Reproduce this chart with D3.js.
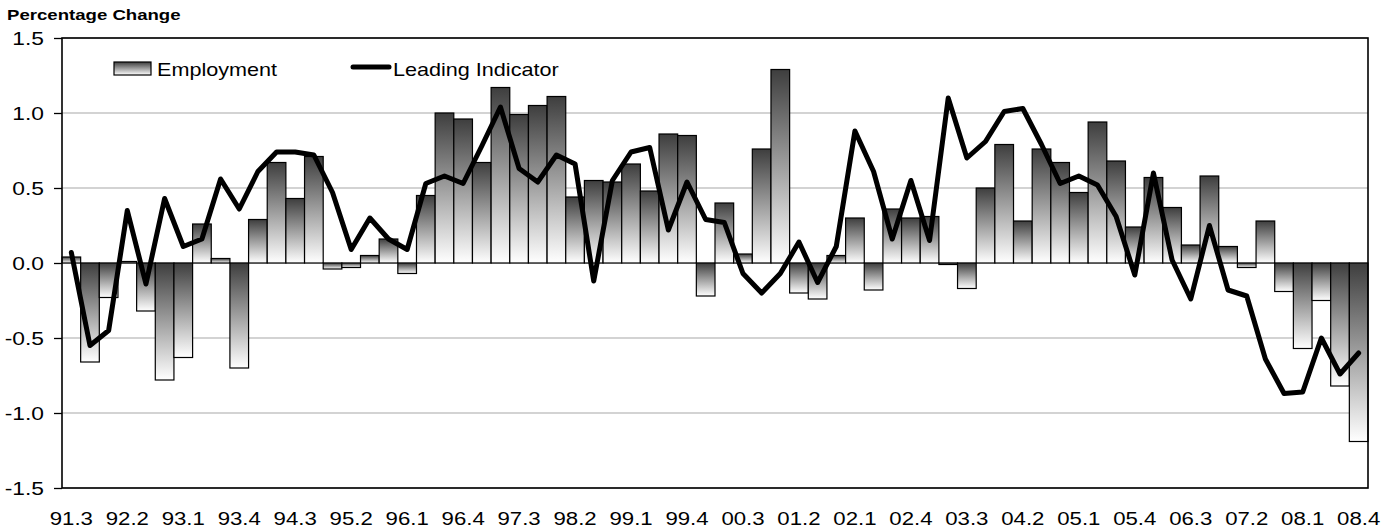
<!DOCTYPE html>
<html>
<head>
<meta charset="utf-8">
<script src="https://cdn.jsdelivr.net/npm/d3@7"></script>
<style>
  html, body { margin: 0; padding: 0; background: #fff; }
  svg { display: block; }
  text { font-family: "Liberation Sans", Arial, sans-serif; fill: #000; }
</style>
</head>
<body>
<svg id="chart" width="1395" height="531"></svg>
<script>
const categories = [
  "91.3","91.4",
  "92.1","92.2","92.3","92.4",
  "93.1","93.2","93.3","93.4",
  "94.1","94.2","94.3","94.4",
  "95.1","95.2","95.3","95.4",
  "96.1","96.2","96.3","96.4",
  "97.1","97.2","97.3","97.4",
  "98.1","98.2","98.3","98.4",
  "99.1","99.2","99.3","99.4",
  "00.1","00.2","00.3","00.4",
  "01.1","01.2","01.3","01.4",
  "02.1","02.2","02.3","02.4",
  "03.1","03.2","03.3","03.4",
  "04.1","04.2","04.3","04.4",
  "05.1","05.2","05.3","05.4",
  "06.1","06.2","06.3","06.4",
  "07.1","07.2","07.3","07.4",
  "08.1","08.2","08.3","08.4"
];

const employment = [
  0.04, -0.66, -0.23, 0.01, -0.32, -0.78, -0.63, 0.26, 0.03, -0.70,
  0.29, 0.67, 0.43, 0.71, -0.04, -0.03, 0.05, 0.16, -0.07, 0.45,
  1.00, 0.96, 0.67, 1.17, 0.99, 1.05, 1.11, 0.44, 0.55, 0.54,
  0.66, 0.48, 0.86, 0.85, -0.22, 0.40, 0.06, 0.76, 1.29, -0.20,
  -0.24, 0.05, 0.30, -0.18, 0.36, 0.30, 0.31, -0.01, -0.17, 0.50,
  0.79, 0.28, 0.76, 0.67, 0.47, 0.94, 0.68, 0.24, 0.57, 0.37,
  0.12, 0.58, 0.11, -0.03, 0.28, -0.19, -0.57, -0.25, -0.82, -1.19
];

const leadingIndicator = [
  0.07, -0.55, -0.45, 0.35, -0.14, 0.43, 0.11, 0.16, 0.56, 0.36,
  0.61, 0.74, 0.74, 0.72, 0.47, 0.09, 0.30, 0.16, 0.09, 0.53,
  0.58, 0.53, 0.78, 1.04, 0.63, 0.54, 0.72, 0.66, -0.12, 0.55,
  0.74, 0.77, 0.22, 0.54, 0.29, 0.27, -0.07, -0.20, -0.07, 0.14,
  -0.13, 0.11, 0.88, 0.61, 0.16, 0.55, 0.15, 1.10, 0.70, 0.81,
  1.01, 1.03, 0.79, 0.53, 0.58, 0.52, 0.31, -0.08, 0.60, 0.02,
  -0.24, 0.25, -0.18, -0.22, -0.64, -0.87, -0.86, -0.50, -0.74, -0.60
];

const yTickValues = [-1.5, -1.0, -0.5, 0.0, 0.5, 1.0, 1.5];
const yTickLabels = ["-1.5", "-1.0", "-0.5", "0.0", "0.5", "1.0", "1.5"];
const xTickLabels = ["91.3","92.2","93.1","93.4","94.3","95.2","96.1","96.4","97.3","98.2","99.1","99.4",
                     "00.3","01.2","02.1","02.4","03.3","04.2","05.1","05.4","06.3","07.2","08.1","08.4"];
const seriesNames = ["Employment", "Leading Indicator"];
const titleText = "Percentage Change";

const W = 1395, H = 531;
const margin = { left: 62, right: 27, top: 38, bottom: 43 };
const SX = 1.2; // horizontal text stretch of the original

const svg = d3.select("#chart");
svg.append("rect").attr("width", W).attr("height", H).attr("fill", "#fff");

const defs = svg.append("defs");
const grad = defs.append("linearGradient").attr("id", "barGrad")
  .attr("x1", 0).attr("y1", 0).attr("x2", 0).attr("y2", 1);
grad.append("stop").attr("offset", "0%").attr("stop-color", "#3e3e3e");
grad.append("stop").attr("offset", "100%").attr("stop-color", "#ffffff");

const x = d3.scaleBand().domain(categories)
  .range([margin.left, W - margin.right]).padding(0);
const y = d3.scaleLinear().domain([-1.5, 1.5])
  .range([H - margin.bottom, margin.top]);

// gridlines
svg.append("g").selectAll("line").data(yTickValues).join("line")
  .attr("x1", margin.left).attr("x2", W - margin.right)
  .attr("y1", d => y(d)).attr("y2", d => y(d))
  .attr("stroke", "#c4c4c4").attr("stroke-width", 1.3);

// bars
svg.append("g").selectAll("rect").data(employment).join("rect")
  .attr("x", (d, i) => x(categories[i]))
  .attr("width", x.bandwidth())
  .attr("y", d => y(Math.max(0, d)))
  .attr("height", d => Math.abs(y(d) - y(0)))
  .attr("fill", "url(#barGrad)")
  .attr("stroke", "#000").attr("stroke-width", 1.2);

// line
const line = d3.line()
  .x((d, i) => x(categories[i]) + x.bandwidth() / 2)
  .y(d => y(d));
svg.append("path").datum(leadingIndicator)
  .attr("d", line)
  .attr("fill", "none").attr("stroke", "#000")
  .attr("stroke-width", 5).attr("stroke-linejoin", "round").attr("stroke-linecap", "round");

// plot border
svg.append("rect")
  .attr("x", margin.left).attr("y", margin.top)
  .attr("width", W - margin.left - margin.right)
  .attr("height", H - margin.top - margin.bottom)
  .attr("fill", "none").attr("stroke", "#000").attr("stroke-width", 1.6);

// y axis
const yAxis = svg.append("g").attr("transform", `translate(${margin.left},0)`)
  .call(d3.axisLeft(y).tickValues(yTickValues)
    .tickFormat((d, i) => yTickLabels[i]).tickSize(8).tickPadding(10));
yAxis.select(".domain").remove();
yAxis.selectAll(".tick line").attr("stroke", "#000").attr("stroke-width", 1.3);
yAxis.selectAll(".tick text")
  .attr("font-size", 19).attr("font-family", "Liberation Sans, Arial, sans-serif")
  .attr("x", -18 / SX).attr("dy", "0.35em")
  .attr("transform", `scale(${SX},1)`);

// x axis
const xAxis = svg.append("g").attr("transform", `translate(0,${H - margin.bottom})`)
  .call(d3.axisBottom(x).tickValues(xTickLabels).tickSize(0).tickPadding(24));
xAxis.select(".domain").remove();
xAxis.selectAll(".tick text")
  .attr("font-size", 18.5).attr("font-family", "Liberation Sans, Arial, sans-serif")
  .attr("transform", `scale(${SX},1)`);

// title
svg.append("g").attr("transform", `translate(7,20) scale(${SX},1)`)
  .append("text").attr("font-size", 15.5).attr("font-weight", "bold").text(titleText);

// legend
const lg = svg.append("g");
lg.append("rect").attr("x", 114).attr("y", 62).attr("width", 37).attr("height", 13)
  .attr("fill", "url(#barGrad)").attr("stroke", "#000").attr("stroke-width", 1.2);
lg.append("g").attr("transform", `translate(157,75.5) scale(${SX},1)`)
  .append("text").attr("font-size", 18).text(seriesNames[0]);
lg.append("line").attr("x1", 353).attr("x2", 389).attr("y1", 67).attr("y2", 67)
  .attr("stroke", "#000").attr("stroke-width", 5).attr("stroke-linecap", "round");
lg.append("g").attr("transform", `translate(393,75.5) scale(${SX},1)`)
  .append("text").attr("font-size", 18).text(seriesNames[1]);
</script>
</body>
</html>
